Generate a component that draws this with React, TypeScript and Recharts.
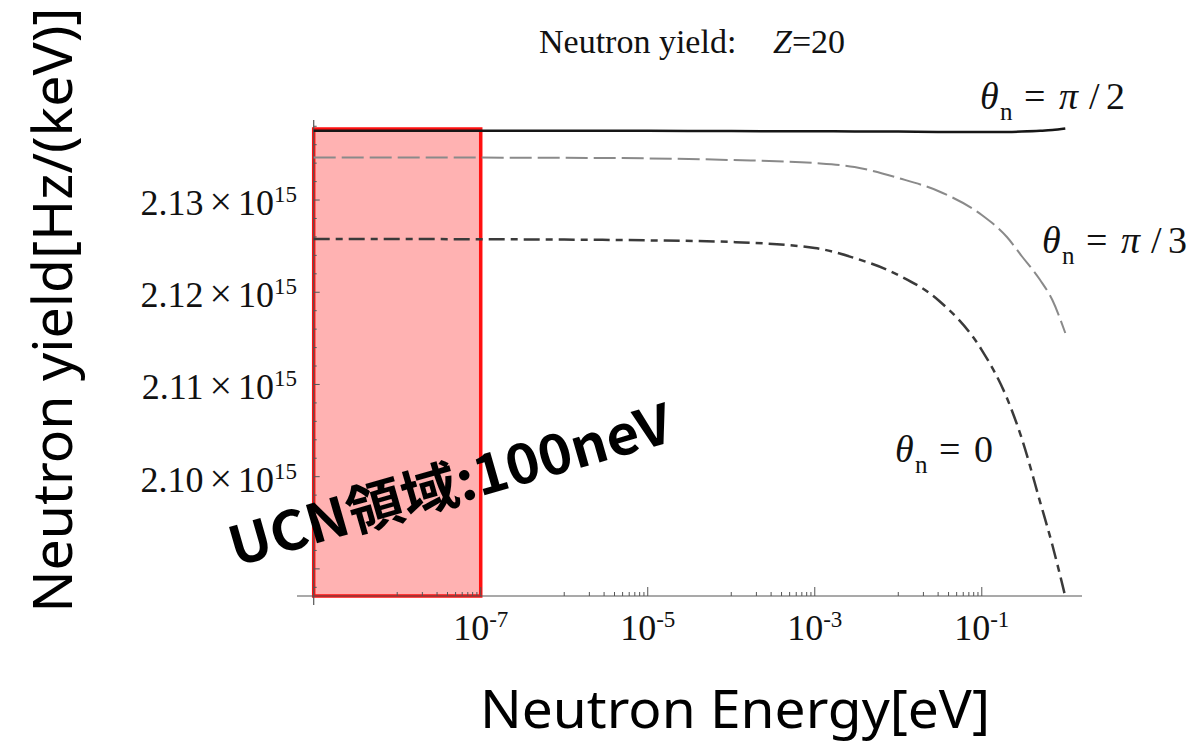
import React from 'react';
import { LineChart, Line, XAxis, YAxis, ReferenceArea, ReferenceLine } from 'recharts';

// neutron energy in eV (log axis)
const energy = [1e-9, 1e-8, 1e-7, 1e-6, 1e-5, 1e-4, 1e-3, 3e-3, 1e-2, 3e-2, 0.1, 0.2, 0.3, 0.5, 0.7, 1];

// yield in units of 10^15 Hz/keV
const yieldHalfPi = [2.13752, 2.13752, 2.13752, 2.13752, 2.13751, 2.13748, 2.13746, 2.13744, 2.13742, 2.13738, 2.13737, 2.13739, 2.13743, 2.13751, 2.13759, 2.13775];
const yieldThirdPi = [2.13461, 2.13461, 2.1346, 2.13458, 2.13452, 2.13434, 2.13401, 2.13358, 2.13239, 2.13098, 2.12837, 2.12599, 2.12393, 2.12133, 2.11916, 2.11558];
const yieldZero = [2.12577, 2.12577, 2.12575, 2.12571, 2.12563, 2.12545, 2.1248, 2.12371, 2.12187, 2.11916, 2.11373, 2.10853, 2.10419, 2.09725, 2.09259, 2.087];

const xMajorTicks = [1e-7, 1e-5, 1e-3, 1e-1];
const xMajorExponents = ['-7', '-5', '-3', '-1'];
const xMinorDecades = [1e-8, 1e-6, 1e-4, 1e-2];
const xMinorSteps = [1, 2, 3, 4, 5, 6, 7, 8, 9];

const yLabelTicks = [2.1, 2.11, 2.12, 2.13];
const yLabelText = ['2.10', '2.11', '2.12', '2.13'];
const yMajorMarks = [2.09, 2.1, 2.11, 2.12, 2.13];

// UCN window: up to 100 neV
const ucnMaxEnergy = 1e-7;
const ucnTopYield = 2.1377;

const xDomain: [number, number] = [Math.pow(10, -9.2), Math.pow(10, 0.2)];
const yDomain: [number, number] = [2.08706, 2.13868];
const originX = 1e-9;

const rows = energy.map((e, i) => ({
  e,
  half: yieldHalfPi[i],
  third: yieldThirdPi[i],
  zero: yieldZero[i],
}));

const xTicks = [
  ...xMajorTicks,
  ...xMinorDecades.flatMap((d) => xMinorSteps.map((k) => k * d)),
];

const yMinorMarks: number[] = [];
for (let i = 0; i <= 25; i++) {
  const v = Math.round((2.088 + 0.002 * i) * 1000) / 1000;
  if (Math.round(v * 1000) % 10 !== 0) yMinorMarks.push(v);
}

const serif = '"Liberation Serif", "Times New Roman", serif';
const sans = '"Noto Sans", "Open Sans", sans-serif';
const axisGray = '#555';

const XTick = ({ x, y, payload }: any) => {
  const idx = xMajorTicks.findIndex((t) => Math.abs(Math.log10(t) - Math.log10(payload.value)) < 1e-6);
  const major = idx >= 0;
  return (
    <g>
      <line x1={x} x2={x} y1={y} y2={y - (major ? 9 : 4)} stroke={axisGray} strokeWidth={1} />
      {major && (
        <text x={x} y={y + 44} textAnchor="middle" fontFamily={serif} fontSize={36} fill="#111">
          10<tspan dy={-13} fontSize={23}>{xMajorExponents[idx]}</tspan>
        </text>
      )}
    </g>
  );
};

const YTick = ({ x, y, payload }: any) => {
  const idx = yLabelTicks.findIndex((t) => Math.abs(t - payload.value) < 1e-6);
  if (idx < 0) return null;
  return (
    <text x={x} y={y + 15} textAnchor="end" fontFamily={serif} fontSize={36} fill="#111">
      {yLabelText[idx]}
      <tspan dx={6} fontSize={40}>×</tspan>
      <tspan dx={6}>10</tspan>
      <tspan dy={-13} fontSize={23}>15</tspan>
    </text>
  );
};

const ThetaLabel = ({ x, y, rhs }: { x: number; y: number; rhs: 'half' | 'third' | 'zero' }) => (
  <text fontFamily={serif} fontSize={38} fill="#111">
    <tspan x={x} y={y} fontStyle="italic">θ</tspan>
    <tspan x={x + 20} y={y + 11} fontSize={25}>n</tspan>
    <tspan x={x + 44} y={y}>=</tspan>
    {rhs === 'zero' ? (
      <tspan x={x + 79} y={y}>0</tspan>
    ) : (
      <>
        <tspan x={x + 79} y={y} fontStyle="italic">π</tspan>
        <tspan x={x + 109} y={y}>/</tspan>
        <tspan x={x + 126} y={y}>{rhs === 'half' ? '2' : '3'}</tspan>
      </>
    )}
  </text>
);

export default function App() {
  return (
    <div style={{ position: 'absolute', left: 0, top: 0, width: 1200, height: 746, background: '#fff' }}>
      <LineChart width={1200} height={746} data={rows} margin={{ top: 120, right: 118, bottom: 0, left: 0 }}>
        <XAxis
          dataKey="e"
          type="number"
          scale="log"
          domain={xDomain}
          allowDataOverflow
          ticks={xTicks}
          interval={0}
          tickSize={0}
          tickMargin={0}
          tickLine={false}
          axisLine={{ stroke: axisGray, strokeWidth: 1.2 }}
          height={150}
          tick={(p: any) => <XTick {...p} />}
        />
        <YAxis
          type="number"
          domain={yDomain}
          allowDataOverflow
          ticks={yLabelTicks}
          interval={0}
          tickSize={0}
          tickMargin={0}
          tickLine={false}
          axisLine={false}
          width={297}
          tick={(p: any) => <YTick {...p} />}
        />

        {/* vertical axis through E = 1e-9 */}
        <ReferenceLine
          segment={[{ x: originX, y: 2.08608 }, { x: originX, y: yDomain[1] }]}
          stroke={axisGray}
          strokeWidth={1.2}
          ifOverflow="visible"
        />
        {yMajorMarks.map((v) => (
          <ReferenceLine key={`ym${v}`} segment={[{ x: originX, y: v }, { x: originX * 1.18, y: v }]} stroke={axisGray} strokeWidth={1} />
        ))}
        {yMinorMarks.map((v) => (
          <ReferenceLine key={`yn${v}`} segment={[{ x: originX, y: v }, { x: originX * 1.086, y: v }]} stroke={axisGray} strokeWidth={1} />
        ))}

        <Line dataKey="half" type="monotone" stroke="#161616" strokeWidth={2.5} dot={false} isAnimationActive={false} />
        <Line dataKey="third" type="monotone" stroke="#8a8a8a" strokeWidth={2} strokeDasharray="22 6" dot={false} isAnimationActive={false} />
        <Line dataKey="zero" type="monotone" stroke="#3a3a3a" strokeWidth={2.5} strokeDasharray="16 6 7 6" dot={false} isAnimationActive={false} />

        <ReferenceArea
          x1={originX}
          x2={ucnMaxEnergy}
          y1={yDomain[0]}
          y2={ucnTopYield}
          fill="#ff0000"
          fillOpacity={0.3}
          stroke="#ff1010"
          strokeWidth={3.5}
          strokeOpacity={1}
        />
      </LineChart>

      <svg width={1200} height={746} style={{ position: 'absolute', left: 0, top: 0, pointerEvents: 'none' }}>
        <text x={539} y={53} fontFamily={serif} fontSize={34} fill="#111">
          Neutron yield:
          <tspan x={773} fontStyle="italic">Z</tspan>
          <tspan>=20</tspan>
        </text>

        <ThetaLabel x={980} y={109} rhs="half" />
        <ThetaLabel x={1042} y={253} rhs="third" />
        <ThetaLabel x={895} y={462} rhs="zero" />

        <text
          transform="translate(72, 310) rotate(-90)"
          textAnchor="middle"
          fontFamily={sans}
          fontSize={55}
          textLength={605}
          lengthAdjust="spacingAndGlyphs"
          fill="#000"
        >
          Neutron yield[Hz/(keV)]
        </text>
        <text
          x={735}
          y={728}
          textAnchor="middle"
          fontFamily={sans}
          fontSize={53}
          textLength={510}
          lengthAdjust="spacingAndGlyphs"
          fill="#000"
        >
          Neutron Energy[eV]
        </text>

        <text
          transform="translate(449, 481) rotate(-16)"
          textAnchor="middle"
          dominantBaseline="central"
          fontFamily={'"Noto Sans CJK JP", "Noto Sans", sans-serif'}
          fontWeight={700}
          fontSize={54}
          textLength={458}
          lengthAdjust="spacingAndGlyphs"
          fill="#000"
        >
          UCN領域:100neV
        </text>
      </svg>
    </div>
  );
}
